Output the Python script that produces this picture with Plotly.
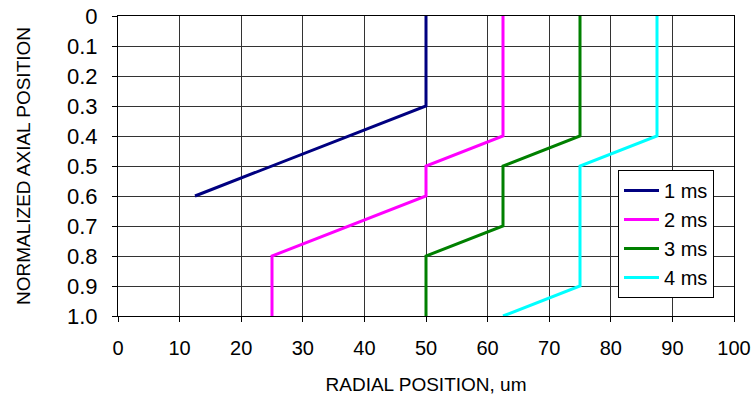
import plotly.graph_objects as go

series_names = ["1 ms", "2 ms", "3 ms", "4 ms"]
series_colors = ["#000080", "#FF00FF", "#008000", "#00FFFF"]
radial = [
    [50, 50, 12.5],
    [62.5, 62.5, 50, 50, 25, 25],
    [75, 75, 62.5, 62.5, 50, 50],
    [87.5, 87.5, 75, 75, 62.5],
]
axial = [
    [0, 0.3, 0.6],
    [0, 0.4, 0.5, 0.6, 0.8, 1.0],
    [0, 0.4, 0.5, 0.7, 0.8, 1.0],
    [0, 0.4, 0.5, 0.9, 1.0],
]
y_ticks = [0, 0.1, 0.2, 0.3, 0.4, 0.5, 0.6, 0.7, 0.8, 0.9, 1.0]
y_labels = ["0", "0.1", "0.2", "0.3", "0.4", "0.5", "0.6", "0.7", "0.8", "0.9", "1.0"]
x_ticks = [0, 10, 20, 30, 40, 50, 60, 70, 80, 90, 100]

fig = go.Figure()
for name, color, xs, ys in zip(series_names, series_colors, radial, axial):
    fig.add_trace(go.Scatter(x=xs, y=ys, mode="lines", name=name,
                             line=dict(color=color, width=3)))

font = "Liberation Sans, Arial, sans-serif"
fig.update_layout(
    width=756, height=395,
    margin=dict(l=118, r=22, t=16, b=79, autoexpand=False),
    paper_bgcolor="white", plot_bgcolor="white",
    font=dict(family=font, color="black"),
    legend=dict(x=0.8117, y=0.4867, xanchor="left", yanchor="top",
                bordercolor="black", borderwidth=1, bgcolor="white",
                itemwidth=35,
                font=dict(size=20, family=font), tracegroupgap=0),
)
fig.update_xaxes(range=[0, 100], tickvals=x_ticks, showgrid=True, automargin=False,
                 gridcolor="#333", gridwidth=1, showline=True, linecolor="black",
                 linewidth=1, mirror=True, ticks="outside", ticklen=5,
                 tickcolor="black", tickfont=dict(size=20), ticklabelstandoff=9,
                 ticklabeloverflow="allow",
                 title=dict(text="RADIAL POSITION, um", font=dict(size=19), standoff=23),
                 zeroline=False)
fig.update_yaxes(range=[1.0, 0], tickvals=y_ticks, ticktext=y_labels, showgrid=True,
                 automargin=False,
                 gridcolor="#333", gridwidth=1, showline=True, linecolor="black",
                 linewidth=1, mirror=True, ticks="outside", ticklen=5,
                 tickcolor="black", tickfont=dict(size=22), ticklabelstandoff=10,
                 ticklabeloverflow="allow",
                 title=dict(text="NORMALIZED AXIAL POSITION", font=dict(size=19), standoff=31),
                 zeroline=False)

fig.write_html("out.html", config={"displayModeBar": False},
               post_script="document.body.style.margin='0';")
